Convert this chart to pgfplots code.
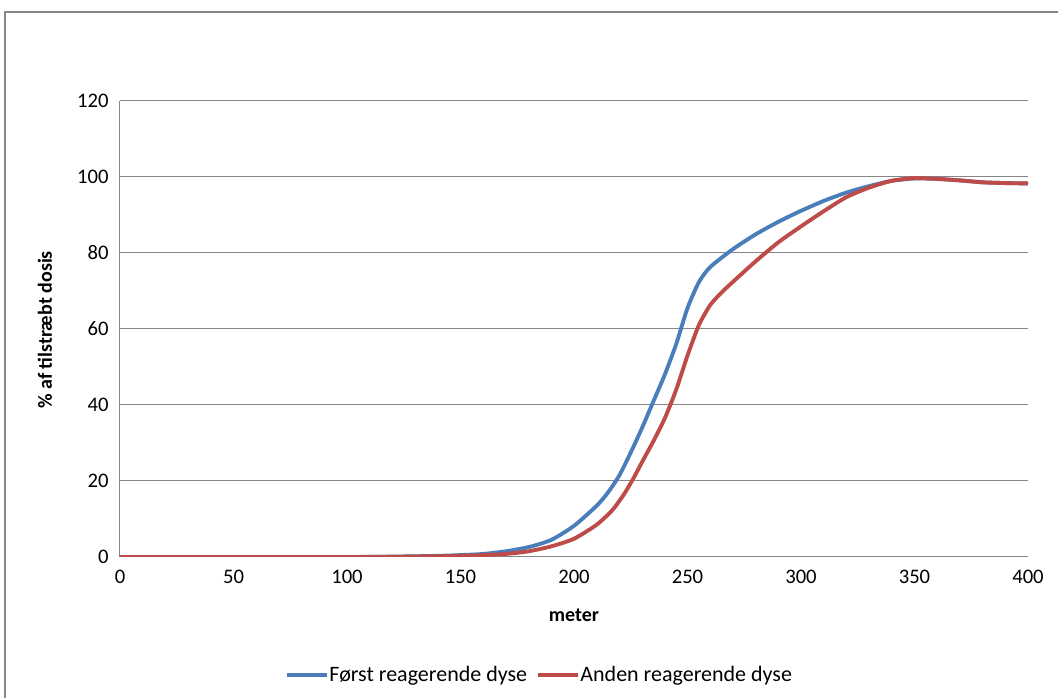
\documentclass[border=0pt]{standalone}
\usepackage{fontspec}
\setmainfont{Carlito}
\usepackage{pgfplots}
\pgfplotsset{compat=1.18}
\definecolor{xlblue}{HTML}{4A7EBB}
\definecolor{xlred}{HTML}{BE4B48}
\definecolor{xlgrid}{HTML}{868686}
\begin{document}
\begin{tikzpicture}
\useasboundingbox (-90pt,-105.75pt) rectangle (703.5pt,417.75pt);
\begin{scope}
\clip (-90pt,-105.75pt) rectangle (703.5pt,417.75pt);
\draw[xlgrid, line width=1.5pt] (-86.25pt,-130pt) -- (-86.25pt,408.75pt) -- (730pt,408.75pt);
\end{scope}
\begin{axis}[
  at={(0,0)}, anchor=south west,
  scale only axis, width=681pt, height=342pt,
  xmin=0, xmax=400, ymin=0, ymax=120,
  xtick={0,50,...,400}, ytick={0,20,...,120},
  axis x line*=bottom, axis y line*=left,
  axis line style={xlgrid, line width=0.75pt, -},
  major tick length=0pt,
  ymajorgrids, grid style={xlgrid, line width=0.75pt},
  font=\fontsize{15.5}{18}\selectfont,
  /pgf/number format/assume math mode=true,
  xticklabel style={yshift=-6pt},
  yticklabel style={xshift=-5pt},
  xlabel={\bfseries meter},
  ylabel={\bfseries \% af tilstræbt dosis},
  xlabel style={font=\fontsize{15}{18}\selectfont, at={(axis description cs:0.5,-0.127)}, anchor=center},
  ylabel style={font=\fontsize{15}{18}\selectfont, at={(axis description cs:-0.0826,0.498)}, anchor=center},
  legend columns=2,
  legend style={draw=none, at={(axis description cs:0.4626,-0.259)}, anchor=center,
    font=\fontsize{16.5}{19}\selectfont,
    /tikz/every even column/.append style={column sep=5pt},
    /tikz/every odd column/.append style={column sep=-2pt}},
  legend image code/.code={\draw[#1, line width=3pt] (0pt,0pt) -- (30pt,0pt);},
  legend cell align=left,
]
\addplot[xlblue, line width=2.9pt, smooth, tension=0.4] coordinates {
(0,0) (50,0) (100,0) (120,0.1) (140,0.3) (150,0.5) (160,0.8) (170,1.5) (180,2.6)
(190,4.5) (200,8.2) (210,13.5) (215,17) (220,21.5) (225,27.5) (230,34) (235,41)
(240,48) (245,56) (250,65.5) (255,72.3) (260,76.3) (270,81) (280,84.9) (290,88.2)
(300,91.1) (310,93.7) (320,95.9) (330,97.6) (340,99) (350,99.6) (360,99.5)
(370,99.1) (380,98.6) (390,98.4) (400,98.3)
};
\addlegendentry{Først reagerende dyse}
\addplot[xlred, line width=2.9pt, smooth, tension=0.4] coordinates {
(0,0) (50,0) (100,0) (120,0.05) (140,0.2) (150,0.3) (160,0.5) (170,0.8) (180,1.5)
(190,2.8) (200,4.8) (210,8.5) (217,12.4) (222,16.5) (226,20.5) (230,25) (235,30.5)
(240,36.5) (245,44) (250,53) (255,61) (260,66.3) (265,69.6) (270,72.4) (280,77.8)
(290,82.8) (300,87) (310,91) (320,94.7) (330,97.2) (340,99) (350,99.7) (360,99.5)
(370,99.1) (380,98.6) (390,98.4) (400,98.3)
};
\addlegendentry{Anden reagerende dyse}
\end{axis}
\end{tikzpicture}
\end{document}
